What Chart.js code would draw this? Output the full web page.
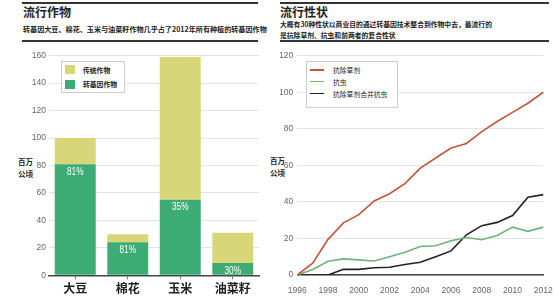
<!DOCTYPE html>
<html>
<head>
  <meta charset="utf-8">
  <title>流行作物 / 流行性状</title>
  <style>
    body { margin: 0; width: 559px; height: 302px; position: relative; background: #fff; overflow: hidden;
           font-family: "Noto Sans CJK SC", "Liberation Sans", sans-serif; color: #222; }
    .abs { position: absolute; }
    .rule { position: absolute; background: #333; }
    .title { font-size: 12px; font-weight: bold; line-height: 14px; }
    .sub { font-size: 6.8px; font-weight: bold; line-height: 11px; white-space: nowrap; }
    .ytitle { font-size: 7.5px; font-weight: bold; line-height: 12px; }
    .legend { position: absolute; border: 1px solid #ccc; background: #fff; font-size: 6.8px; }
    .legend div { position: absolute; white-space: nowrap; line-height: 10px; }
    .sw { position: absolute; }
    canvas { position: absolute; }
  </style>
  <script src="https://cdn.jsdelivr.net/npm/chart.js"></script>
</head>
<body>
  <!-- left panel header -->
  <div class="rule" style="left:22px; top:2px; width:236px; height:2px;"></div>
  <div class="abs title" style="left:23px; top:5px;">流行作物</div>
  <div class="abs sub" style="left:23px; top:24px; font-size:7.1px;">转基因大豆、棉花、玉米与油菜籽作物几乎占了2012年所有种植的转基因作物</div>
  <div class="rule" style="left:22px; top:40px; width:236px; height:1.5px;"></div>
  <div class="abs ytitle" style="left:18px; top:156px;">百万<br>公顷</div>

  <!-- right panel header -->
  <div class="rule" style="left:280px; top:2px; width:269px; height:2px;"></div>
  <div class="abs title" style="left:280px; top:5px;">流行性状</div>
  <div class="abs sub" style="left:280px; top:19px;">大概有30种性状以商业目的通过转基因技术整合到作物中去，最流行的</div>
  <div class="abs sub" style="left:280px; top:30px;">是抗除草剂、抗虫和前两者的复合性状</div>
  <div class="rule" style="left:280px; top:40px; width:269px; height:2px;"></div>
  <div class="abs ytitle" style="left:270px; top:155px;">百万<br>公顷</div>

  <canvas id="crops" width="275" height="302" style="left:0; top:0;"></canvas>
  <canvas id="traits" width="279" height="302" style="left:280px; top:0;"></canvas>

  <div class="legend" id="crops-legend" style="left:61px; top:61px; width:62px; height:30px;"></div>
  <div class="legend" id="traits-legend" style="left:306px; top:61px; width:90px; height:45px;"></div>

  <script>
    // ---- left chart data ----
    const crops = ['大豆', '棉花', '玉米', '油菜籽'];
    const gmArea = [81, 24, 55, 9];            // 转基因作物
    const conventionalArea = [19, 6, 104, 22]; // 传统作物 (stacked on top)
    const gmShare = ['81%', '81%', '35%', '30%'];
    const cropTicks = [0, 20, 40, 60, 80, 100, 120, 140, 160];

    // ---- right chart data ----
    const years = [1996, 1997, 1998, 1999, 2000, 2001, 2002, 2003, 2004,
                   2005, 2006, 2007, 2008, 2009, 2010, 2011, 2012];
    const herbicide = [0, 6.5, 19.5, 28.5, 33, 40.5, 44.5, 50, 58.5, 64, 69.5, 72, 78.5, 84, 89, 94, 100];
    const insect = [0, 3, 7.5, 8.8, 8.3, 7.7, 10, 12.5, 15.6, 16, 18.7, 20.5, 19.3, 21.6, 26.2, 23.9, 26.2];
    const stacked = [0, 0, 0, 3.1, 3.1, 4, 4.2, 5.7, 7, 10, 13.2, 22, 27, 28.8, 32.5, 42.6, 44];
    const traitTicks = [0, 20, 40, 60, 80, 100, 120];

    const GREEN = '#3dab74', YELLOW = '#d7d679';
    const tickFont = { family: 'Liberation Sans, Arial, sans-serif', size: 8.5 };

    // percentage labels inside the GM bars (squeezed to look condensed)
    const shareLabels = {
      id: 'shareLabels',
      afterDatasetsDraw(chart) {
        const ctx = chart.ctx;
        const meta = chart.getDatasetMeta(0);
        meta.data.forEach((bar, i) => {
          ctx.save();
          ctx.fillStyle = '#fff';
          ctx.font = '11.5px "Liberation Sans", Arial, sans-serif';
          ctx.textAlign = 'center';
          ctx.textBaseline = 'middle';
          ctx.translate(bar.x, bar.y + 7.5);
          ctx.scale(0.72, 1);
          ctx.fillText(gmShare[i], 0, 0);
          ctx.restore();
        });
      }
    };

    new Chart(document.getElementById('crops'), {
      type: 'bar',
      data: {
        labels: crops,
        datasets: [
          { label: '转基因作物', data: gmArea, backgroundColor: GREEN, stack: 's' },
          { label: '传统作物', data: conventionalArea, backgroundColor: YELLOW, stack: 's' }
        ]
      },
      options: {
        responsive: false,
        animation: false,
        layout: { padding: { left: 0, top: 55.7, right: 16, bottom: 0 } },
        datasets: { bar: { categoryPercentage: 0.78, barPercentage: 1 } },
        plugins: { legend: { display: false }, tooltip: { enabled: false } },
        scales: {
          x: {
            stacked: true,
            afterFit: s => { s.height = 26.7; },
            grid: { display: true, drawOnChartArea: false, offset: false, tickLength: 4, tickColor: '#777' },
            border: { display: true, color: '#444', width: 1.5 },
            ticks: { color: '#222', padding: 2, font: { family: 'Noto Sans CJK SC', size: 12, weight: 'bold' } }
          },
          y: {
            stacked: true,
            min: 0, max: 160,
            afterFit: s => { s.width = 49; },
            afterBuildTicks: s => { s.ticks = cropTicks.map(v => ({ value: v })); },
            grid: { color: '#e4e4e4', drawTicks: false },
            border: { display: false },
            ticks: { color: '#666', padding: 3, font: tickFont }
          }
        }
      },
      plugins: [shareLabels]
    });

    const lineStyle = { borderWidth: 1.6, pointRadius: 0, tension: 0, fill: false };
    const traitSeries = [
      { label: '抗除草剂', data: herbicide, borderColor: '#c4553c' },
      { label: '抗虫', data: insect, borderColor: '#72b278' },
      { label: '抗除草剂合并抗虫', data: stacked, borderColor: '#222' }
    ];

    new Chart(document.getElementById('traits'), {
      type: 'line',
      data: {
        labels: years,
        datasets: traitSeries.map(s => Object.assign({}, lineStyle, s))
      },
      options: {
        responsive: false,
        animation: false,
        layout: { padding: { left: 0, top: 55.7, right: 15.7, bottom: 0 } },
        plugins: { legend: { display: false }, tooltip: { enabled: false } },
        scales: {
          x: {
            afterFit: s => { s.height = 27; },
            grid: { display: false },
            border: { display: true, color: '#444', width: 1.5 },
            ticks: {
              autoSkip: false, maxRotation: 0, color: '#666', padding: 3, font: tickFont,
              callback: (v, i) => (years[i] % 2 === 0 ? String(years[i]) : '')
            }
          },
          y: {
            min: 0, max: 120,
            afterFit: s => { s.width = 17.3; },
            afterBuildTicks: s => { s.ticks = traitTicks.map(v => ({ value: v })); },
            grid: { color: '#e4e4e4', drawTicks: false },
            border: { display: false },
            ticks: { color: '#666', padding: 4, font: tickFont }
          }
        }
      }
    });

    // html legends
    const cl = document.getElementById('crops-legend');
    [['传统作物', YELLOW], ['转基因作物', GREEN]].forEach(([t, c], i) => {
      cl.innerHTML += `<span class="sw" style="left:3px; top:${3 + i * 14.5}px; width:10px; height:9px; background:${c}"></span>` +
                      `<div style="left:21px; top:${2.5 + i * 14.5}px; font-weight:bold;">${t}</div>`;
    });
    const tl = document.getElementById('traits-legend');
    traitSeries.forEach((s, i) => {
      tl.innerHTML += `<span class="sw" style="left:3px; top:${7 + i * 11.8}px; width:14px; height:1.6px; background:${s.borderColor}"></span>` +
                      `<div style="left:26px; top:${3 + i * 11.8}px;">${s.label}</div>`;
    });
  </script>
</body>
</html>
